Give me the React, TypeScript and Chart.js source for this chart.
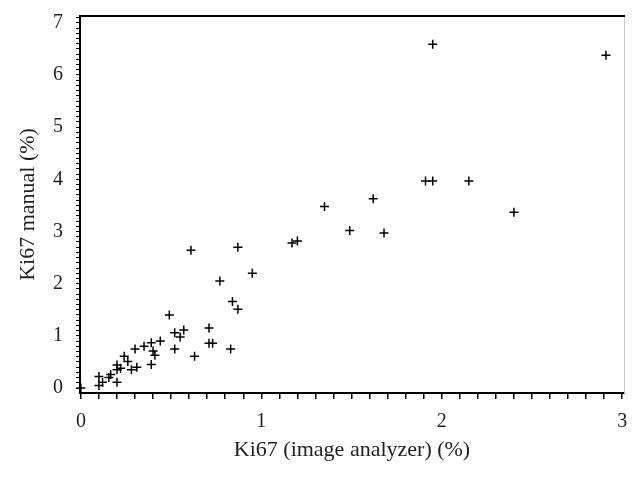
import { useEffect, useRef } from "react";
import { Chart, registerables } from "chart.js";

Chart.register(...registerables);

// Ki67 measured by image analyzer (%)
const imageAnalyzer = [
  0.0, 0.1, 0.1, 0.12, 0.155, 0.165, 0.2, 0.2, 0.22, 0.2,
  0.24, 0.26, 0.28, 0.31, 0.3, 0.35, 0.39, 0.39, 0.4, 0.41,
  0.44, 0.49, 0.52, 0.52, 0.55, 0.57, 0.63, 0.71, 0.71, 0.73,
  0.77, 0.83, 0.84, 0.87, 0.95, 0.61, 0.87, 1.17, 1.2, 1.35,
  1.49, 1.62, 1.68, 1.91, 1.95, 2.15, 2.4, 1.95, 2.91,
];
// Ki67 manual count (%)
const manual = [
  0.0, 0.22, 0.05, 0.11, 0.2, 0.26, 0.11, 0.44, 0.38, 0.35,
  0.61, 0.51, 0.35, 0.4, 0.75, 0.8, 0.45, 0.87, 0.71, 0.63,
  0.9, 1.4, 1.06, 0.75, 0.98, 1.11, 0.61, 1.15, 0.86, 0.86,
  2.05, 0.75, 1.66, 1.51, 2.2, 2.64, 2.7, 2.78, 2.82, 3.48,
  3.02, 3.63, 2.97, 3.97, 3.97, 3.97, 3.37, 6.59, 6.38,
];

const xTitle = "Ki67 (image analyzer) (%)";
const yTitle = "Ki67 manual (%)";

const FONT = "'Liberation Serif', 'DejaVu Serif', serif";
const TEXT = "#231f20";

const isInt = (v: number) => Math.abs(v - Math.round(v)) < 1e-6;

const framePlugin = {
  id: "frame",
  afterDraw(chart: any) {
    const { ctx, chartArea } = chart;
    const { left, right, top, bottom } = chartArea;
    ctx.save();
    ctx.strokeStyle = "#c8c8c8";
    ctx.lineWidth = 1;
    ctx.beginPath();
    ctx.moveTo(right + 0.5, top);
    ctx.lineTo(right + 0.5, bottom);
    ctx.stroke();
    ctx.strokeStyle = "#000";
    ctx.lineWidth = 2;
    ctx.beginPath();
    ctx.moveTo(left - 1, top);
    ctx.lineTo(right + 1, top);
    ctx.stroke();
    ctx.restore();
  },
};

const zeroPad = (s: any) => {
  s.paddingTop = 0;
  s.paddingBottom = 0;
  s.paddingLeft = 0;
  s.paddingRight = 0;
};

export default function App() {
  const ref = useRef<HTMLCanvasElement>(null);

  useEffect(() => {
    if (!ref.current) return;
    const points = imageAnalyzer.map((x, i) => ({ x, y: manual[i] }));
    const chart = new Chart(ref.current, {
      type: "scatter",
      data: {
        datasets: [
          {
            data: points,
            pointStyle: "cross",
            pointRadius: 4.5,
            pointHoverRadius: 4.5,
            borderColor: "#000",
            backgroundColor: "#000",
            pointBorderWidth: 1.5,
            clip: false as any,
          },
        ],
      },
      options: {
        animation: false,
        responsive: false,
        devicePixelRatio: 1,
        layout: { padding: { top: 16, right: 15, left: 0, bottom: 0 } },
        plugins: {
          legend: { display: false },
          tooltip: { enabled: false },
        },
        scales: {
          x: {
            type: "linear",
            min: -0.005,
            max: 3.01,
            afterFit: (s: any) => {
              s.height = 85;
              zeroPad(s);
            },
            border: { display: true, color: "#000", width: 2 },
            grid: {
              display: true,
              drawOnChartArea: false,
              drawTicks: true,
              tickLength: 6,
              color: "#000",
              lineWidth: 1.5,
            },
            ticks: {
              stepSize: 0.1,
              autoSkip: false,
              includeBounds: false,
              maxRotation: 0,
              padding: 11,
              color: TEXT,
              font: { family: FONT, size: 20 },
              callback: (v: any) => (isInt(Number(v)) ? String(Math.round(Number(v))) : ""),
            },
            title: {
              display: true,
              text: xTitle,
              color: TEXT,
              font: { family: FONT, size: 22 },
              padding: { top: 0, bottom: 15 },
            },
          },
          y: {
            type: "linear",
            min: -0.095,
            max: 7.13,
            afterFit: (s: any) => {
              s.width = 80;
              zeroPad(s);
            },
            border: { display: true, color: "#000", width: 2 },
            grid: {
              display: true,
              drawOnChartArea: false,
              drawTicks: true,
              tickLength: 4,
              color: "#000",
              lineWidth: 1,
            },
            ticks: {
              stepSize: 0.1,
              autoSkip: false,
              includeBounds: false,
              padding: 13,
              color: TEXT,
              font: { family: FONT, size: 20 },
              callback: (v: any) => (isInt(Number(v)) ? String(Math.round(Number(v))) : ""),
            },
            title: {
              display: true,
              text: yTitle,
              color: TEXT,
              font: { family: FONT, size: 22 },
              padding: { top: 15, bottom: 0 },
            },
          },
        },
      },
      plugins: [framePlugin],
    });
    return () => chart.destroy();
  }, []);

  return (
    <div style={{ position: "fixed", left: 0, top: 0, width: 639, height: 478, background: "#fff" }}>
      <canvas ref={ref} width={639} height={478} style={{ display: "block" }} />
    </div>
  );
}
